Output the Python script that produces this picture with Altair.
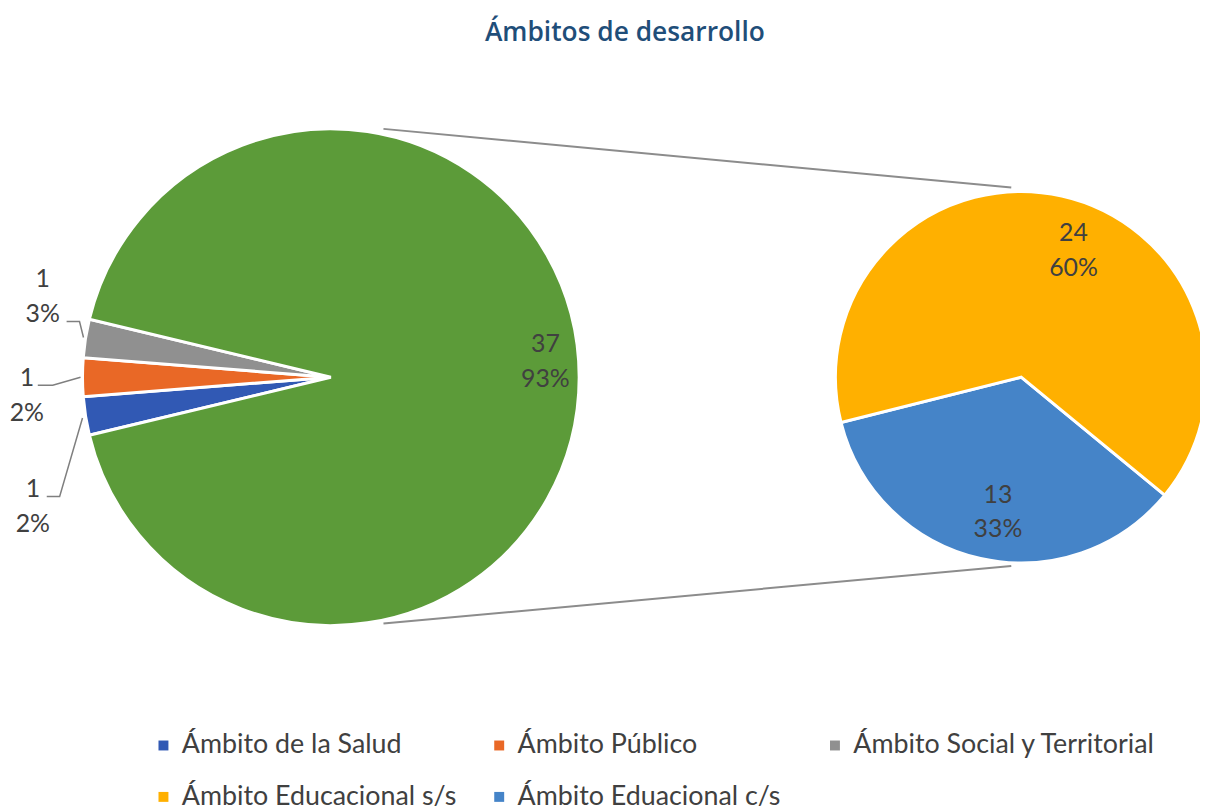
import math
import altair as alt
import pandas as pd

# ---------------- data ----------------
main_categories = ["Ámbito de la Salud", "Ámbito Público", "Ámbito Social y Territorial", "Otros"]
main_values = [1, 1, 1, 37]
main_percent = ["2%", "2%", "3%", "93%"]

second_categories = ["Ámbito Eduacional c/s", "Ámbito Educacional s/s"]
second_values = [13, 24]
second_percent = ["33%", "60%"]

legend_categories = ["Ámbito de la Salud", "Ámbito Público", "Ámbito Social y Territorial",
                     "Ámbito Educacional s/s", "Ámbito Eduacional c/s"]
all_categories = legend_categories + ["Otros"]
palette = ["#3159B4", "#E96826", "#909090", "#FFB000", "#4584C8", "#5C9B39"]

title_text = "Ámbitos de desarrollo"

# ---------------- layout (pixels in the view) ----------------
MAIN_CX, MAIN_CY, MAIN_R = 325, 369, 250
SEC_CX, SEC_CY, SEC_R = 1020, 369, 187
MAIN_START = math.radians(256.5)
SEC_START = math.radians(129.4)
TXT = "#404040"
LABEL_FONT = "Lato"
LINE_H = 35
HALF = -LINE_H / 2  # centre a two-line label block on its anchor

# positions (block centres) of the outside labels of the three small slices and their leader lines
small_label_pos = {
    "Ámbito Social y Territorial": (35, 287.5),
    "Ámbito Público": (19, 387.5),
    "Ámbito de la Salud": (25, 499.5),
}
leader_paths = {
    "Ámbito Social y Territorial": [(59, 313), (72, 313), (76, 329)],
    "Ámbito Público": [(30, 377), (45, 377), (73, 369)],
    "Ámbito de la Salud": [(39, 489), (52, 489), (75, 410)],
}
connector_paths = [((378, 119), (1010, 178)), ((378, 617), (1010, 559))]

color_scale = alt.Scale(domain=all_categories, range=palette)
legend = alt.Legend(
    values=legend_categories, orient="none", legendX=143, legendY=726, columns=3,
    direction="horizontal", gridAlign="all", columnPadding=1, rowPadding=24, padding=0,
    symbolType="square", symbolSize=100, symbolStrokeWidth=0, labelOffset=5,
    labelFont=LABEL_FONT, labelFontSize=27, labelColor=TXT, labelLimit=0, title=None,
)

# ---------------- main pie ----------------
main_df = pd.DataFrame({
    "cat": main_categories, "v": main_values, "pct": main_percent,
    "ord": list(range(len(main_categories))),
})
main_base = alt.Chart(main_df).encode(
    theta=alt.Theta("v:Q", stack=True,
                    scale=alt.Scale(range=[MAIN_START, MAIN_START + 2 * math.pi])),
    order=alt.Order("ord:Q", sort="ascending"),
    x=alt.value(MAIN_CX), y=alt.value(MAIN_CY),
)
main_arc = main_base.mark_arc(outerRadius=MAIN_R, stroke="white", strokeWidth=3).encode(
    color=alt.Color("cat:N", scale=color_scale, legend=legend)
)
main_text = main_base.transform_calculate(
    lbl="datum.cat == 'Otros' ? [toString(datum.v), datum.pct] : ''"
).mark_text(radius=216, dy=-15.5 + HALF, font=LABEL_FONT, fontSize=25, color=TXT,
            lineHeight=LINE_H, align="center", baseline="middle").encode(text="lbl:N")
main_layer = alt.layer(main_arc, main_text)

# ---------------- second pie ----------------
sec_df = pd.DataFrame({
    "cat": second_categories, "v": second_values, "pct": second_percent,
    "ord": list(range(len(second_categories))),
})
sec_base = alt.Chart(sec_df).encode(
    theta=alt.Theta("v:Q", stack=True,
                    scale=alt.Scale(range=[SEC_START, SEC_START + 2 * math.pi])),
    order=alt.Order("ord:Q", sort="ascending"),
    x=alt.value(SEC_CX), y=alt.value(SEC_CY),
)
sec_arc = sec_base.mark_arc(outerRadius=SEC_R, stroke="white", strokeWidth=3).encode(
    color=alt.Color("cat:N", scale=color_scale, legend=legend)
)
sec_text_a = sec_base.transform_calculate(
    lbl=f"datum.cat == '{second_categories[0]}' ? [toString(datum.v), datum.pct] : ''"
).mark_text(radius=139, dx=7, dy=HALF, font=LABEL_FONT, fontSize=25, color=TXT,
            lineHeight=LINE_H, align="center", baseline="middle").encode(text="lbl:N")
sec_text_b = sec_base.transform_calculate(
    lbl=f"datum.cat == '{second_categories[1]}' ? [toString(datum.v), datum.pct] : ''"
).mark_text(radius=131, dx=24, dy=HALF, font=LABEL_FONT, fontSize=25, color=TXT,
            lineHeight=LINE_H, align="center", baseline="middle").encode(text="lbl:N")
sec_layer = alt.layer(sec_arc, sec_text_a, sec_text_b)

# ---------------- outside labels of small slices ----------------
small_rows = []
for c, v, p in zip(main_categories, main_values, main_percent):
    if c in small_label_pos:
        lx, ly = small_label_pos[c]
        small_rows.append({"cat": c, "lbl": [str(v), p], "lx": lx, "ly": ly})
small_df = pd.DataFrame(small_rows)
small_text = alt.Chart(small_df).mark_text(
    font=LABEL_FONT, fontSize=25, color=TXT, lineHeight=LINE_H, dy=HALF,
    align="center", baseline="middle"
).encode(
    x=alt.X("lx:Q", scale=None, axis=None),
    y=alt.Y("ly:Q", scale=None, axis=None),
    text="lbl:N",
)

leader_rows = []
for c, pts in leader_paths.items():
    for i, (px, py) in enumerate(pts):
        leader_rows.append({"cat": c, "i": i, "px": px, "py": py})
leader_df = pd.DataFrame(leader_rows)
leaders = alt.Chart(leader_df).mark_line(color="#7F7F7F", strokeWidth=1.5).encode(
    x=alt.X("px:Q", scale=None, axis=None),
    y=alt.Y("py:Q", scale=None, axis=None),
    detail="cat:N",
    order="i:Q",
)

conn_df = pd.DataFrame([
    {"x1": a[0], "y1": a[1], "x2": b[0], "y2": b[1]} for a, b in connector_paths
])
connectors = alt.Chart(conn_df).mark_rule(color="#8C8C8C", strokeWidth=2).encode(
    x=alt.X("x1:Q", scale=None, axis=None),
    y=alt.Y("y1:Q", scale=None, axis=None),
    x2="x2:Q",
    y2="y2:Q",
)

title = alt.Chart(pd.DataFrame({"t": [title_text]})).mark_text(
    font="Open Sans", fontSize=26.5, fontWeight=600, color="#1F4E79",
    align="center", baseline="alphabetic",
).encode(x=alt.value(621), y=alt.value(31), text="t:N")

chart = alt.layer(
    connectors, main_layer, sec_layer, leaders, small_text, title
).resolve_scale(theta="independent").properties(
    width=1200, height=802,
    autosize=alt.AutoSizeParams(type="none"),
    padding=0,
    background="white",
).configure_view(stroke=None)

chart.save("out.html", embed_options={"renderer": "svg", "actions": False})
